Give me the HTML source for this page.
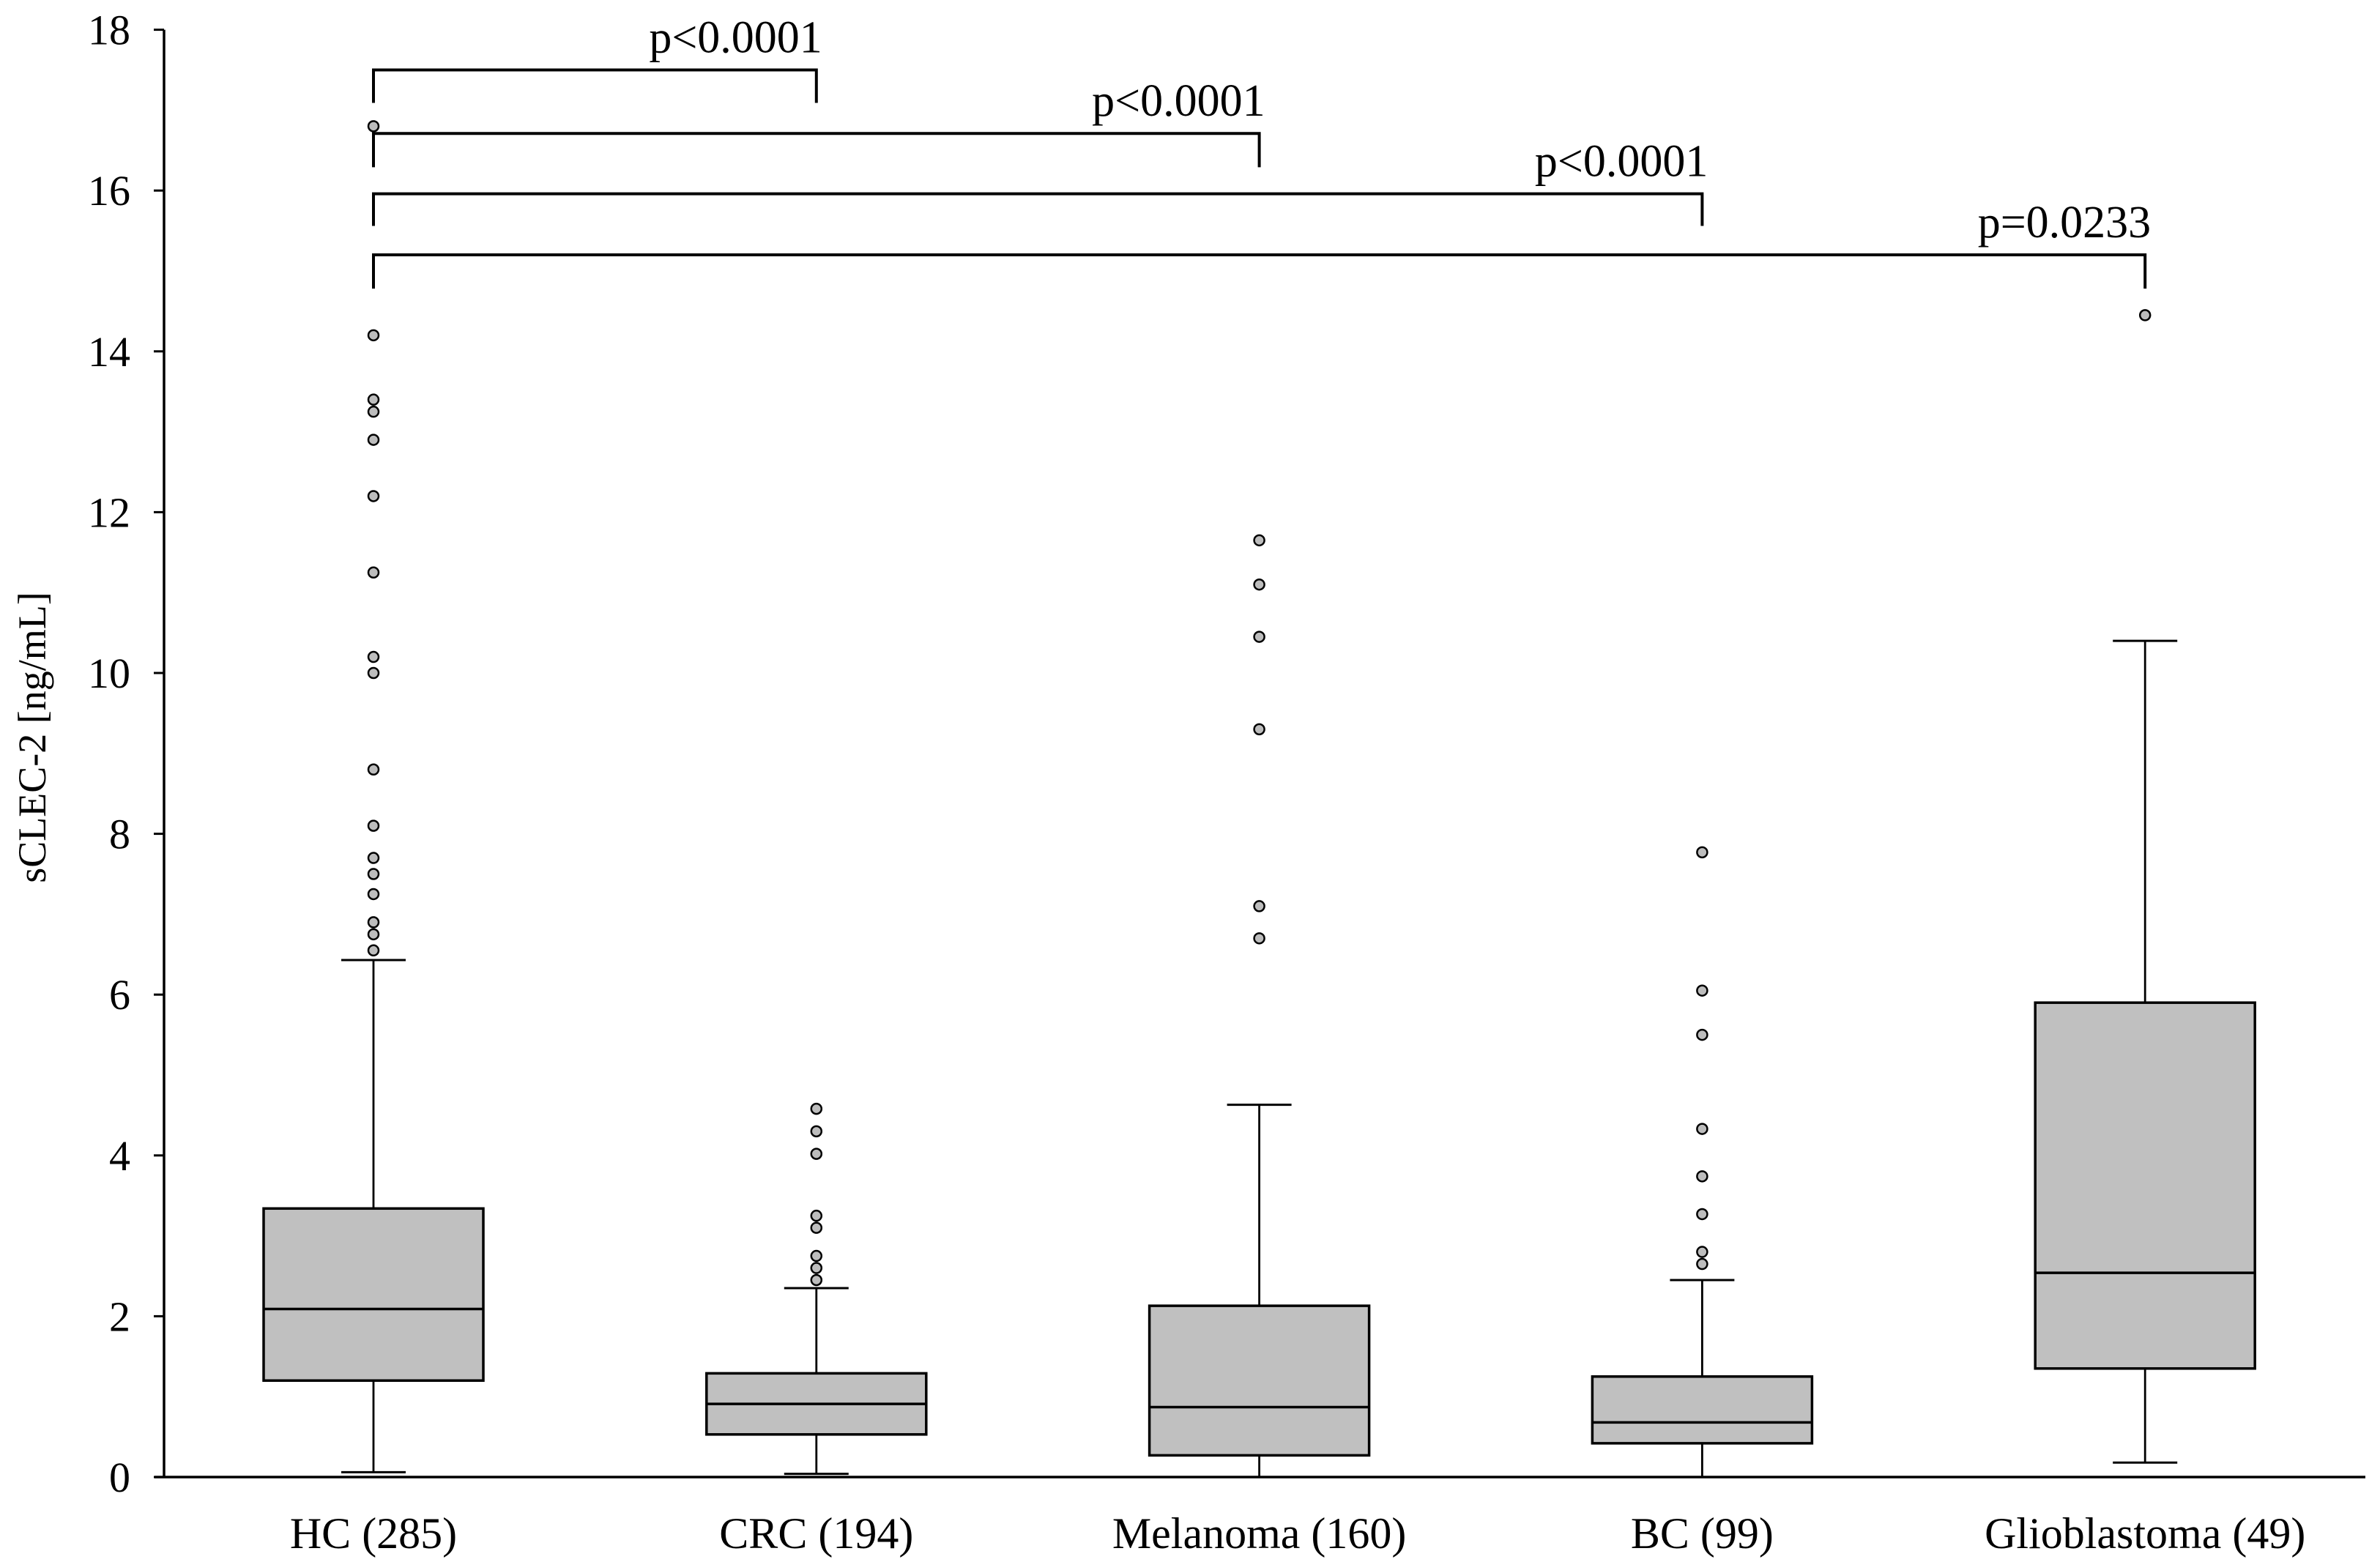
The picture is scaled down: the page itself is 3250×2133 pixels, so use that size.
<!DOCTYPE html>
<html><head><meta charset="utf-8"><style>
html,body{margin:0;padding:0;background:#fff;}
svg{display:block;font-family:"Liberation Serif",serif;}
</style></head><body>
<svg id="chart" width="3250" height="2133" viewBox="0 0 3250 2133"></svg>
<script>
const categories = ["HC (285)","CRC (194)","Melanoma (160)","BC (99)","Glioblastoma (49)"];
const lowWhisker = [0.06,0.04,0,0,0.18];
const q1 = [1.2,0.53,0.27,0.42,1.35];
const median = [2.09,0.91,0.87,0.68,2.54];
const q3 = [3.34,1.29,2.13,1.25,5.9];
const highWhisker = [6.43,2.35,4.63,2.45,10.4];
const outliers = [
  [6.55,6.75,6.9,7.25,7.5,7.7,8.1,8.8,10.0,10.2,11.25,12.2,12.9,13.25,13.4,14.2,16.8],
  [2.45,2.6,2.75,3.1,3.25,4.02,4.3,4.58],
  [6.7,7.1,9.3,10.45,11.1,11.65],
  [2.65,2.8,3.27,3.74,4.33,5.5,6.05,7.77],
  [14.45]
];
const yTicks = [0,2,4,6,8,10,12,14,16,18];
const bracketTargets = [1,2,3,4];
const bracketTops = [17.5,16.71,15.96,15.2];
const bracketDrops = [17.09,16.29,15.56,14.78];
const pLabels = ["p<0.0001","p<0.0001","p<0.0001","p=0.0233"];

const svg = document.getElementById('chart');
const NS = "http://www.w3.org/2000/svg";
const y = v => 2017 - 109.8 * v;
const x = i => 510 + i * 604.8;
function mk(tag, attrs, parent){const e=document.createElementNS(NS,tag);for(const k in attrs)e.setAttribute(k,attrs[k]);(parent||svg).appendChild(e);return e;}

let ax = mk('line',{x1:224,y1:y(18),x2:224,y2:y(0),stroke:'#000','stroke-width':3.5});


let xa = mk('line',{x1:211,y1:y(0),x2:3230,y2:y(0),stroke:'#000','stroke-width':3.5});


yTicks.forEach(t=>{
  let tk = mk('line',{x1:210,y1:y(t),x2:224,y2:y(t),stroke:'#000','stroke-width':3});
  
  
  let tl = mk('text',{x:178,y:y(t)+20,'text-anchor':'end','font-size':58});
  tl.textContent = t;
  
  
});
let yt = mk('text',{x:0,y:0,'text-anchor':'middle','font-size':54,transform:'translate(62,1007) rotate(-90)'});
yt.textContent = 'sCLEC-2 [ng/mL]';



categories.forEach((c,i)=>{
  const cx = x(i);
  const g = mk('g',{});
  
  
  mk('line',{x1:cx,y1:y(q3[i]),x2:cx,y2:y(highWhisker[i]),stroke:'#000','stroke-width':2.8},g);
  mk('line',{x1:cx,y1:y(q1[i]),x2:cx,y2:y(lowWhisker[i]),stroke:'#000','stroke-width':2.8},g);
  mk('line',{x1:cx-44,y1:y(highWhisker[i]),x2:cx+44,y2:y(highWhisker[i]),stroke:'#000','stroke-width':3},g);
  mk('line',{x1:cx-44,y1:y(lowWhisker[i]),x2:cx+44,y2:y(lowWhisker[i]),stroke:'#000','stroke-width':3},g);
  mk('rect',{x:cx-150,y:y(q3[i]),width:300,height:y(q1[i])-y(q3[i]),fill:'#c0c0c0',stroke:'#000','stroke-width':3.5},g);
  mk('line',{x1:cx-150,y1:y(median[i]),x2:cx+150,y2:y(median[i]),stroke:'#000','stroke-width':3.5},g);
  outliers[i].forEach(v=>{
    const o = mk('circle',{cx:cx,cy:y(v),r:7,fill:'#bdbdbd',stroke:'#000','stroke-width':2.5});
    
    
  });
  const lbl = mk('text',{x:cx,y:2114,'text-anchor':'middle','font-size':60});
  lbl.textContent = c;
  
  
});

bracketTargets.forEach((t,k)=>{
  const x0=x(0), x1=x(t), yt0=y(bracketTops[k]), yd=y(bracketDrops[k]);
  const p = mk('path',{d:`M${x0},${yd} L${x0},${yt0} L${x1},${yt0} L${x1},${yd}`,fill:'none',stroke:'#000','stroke-width':4});
  
  
  const tx = mk('text',{x:x1+8,y:yt0-24,'text-anchor':'end','font-size':62});
  tx.textContent = pLabels[k];
  
  
});
</script>
</body></html>
